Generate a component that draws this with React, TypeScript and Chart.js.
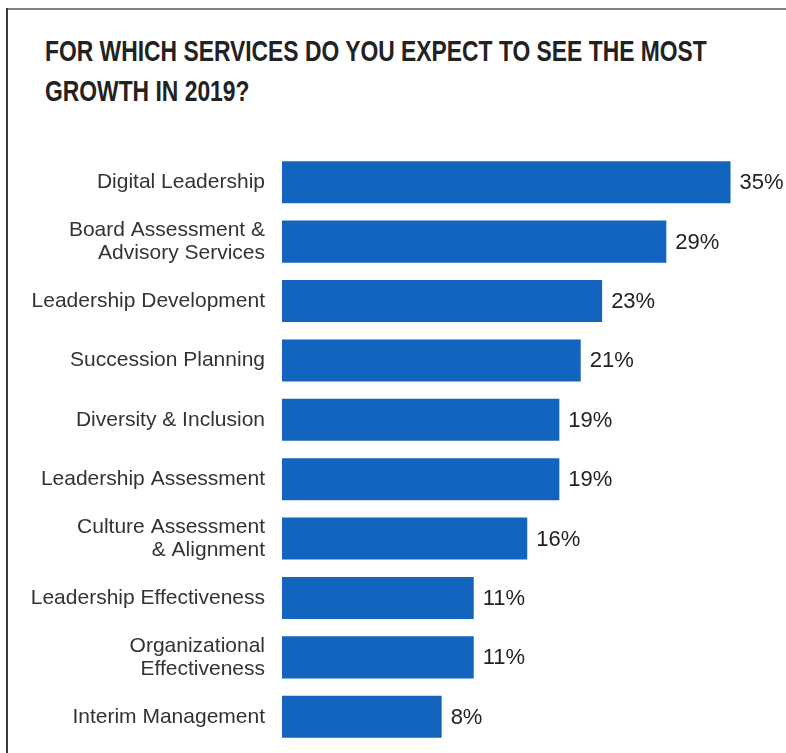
import React, { useEffect, useRef } from "react";
import { Chart, registerables } from "chart.js";

Chart.register(...registerables);

const titleLines = [
  "FOR WHICH SERVICES DO YOU EXPECT TO SEE THE MOST",
  "GROWTH IN 2019?",
];

const categories: (string | string[])[] = [
  "Digital Leadership",
  ["Board Assessment &", "Advisory Services"],
  "Leadership Development",
  "Succession Planning",
  "Diversity & Inclusion",
  "Leadership Assessment",
  ["Culture Assessment", "& Alignment"],
  "Leadership Effectiveness",
  ["Organizational", "Effectiveness"],
  "Interim Management",
];

const values = [35, 29, 23, 21, 19, 19, 16, 11, 11, 8];

const axisMin = -6.92;
const axisMax = 39.25;

const valueLabelPlugin = {
  id: "valueLabels",
  afterDatasetsDraw(chart: any) {
    const ctx = chart.ctx;
    const meta = chart.getDatasetMeta(0);
    ctx.save();
    ctx.font = '22px "Liberation Sans", Arial, sans-serif';
    ctx.fillStyle = "#222222";
    ctx.textAlign = "left";
    ctx.textBaseline = "middle";
    meta.data.forEach((bar: any, i: number) => {
      ctx.fillText(values[i] + "%", bar.x + 9, bar.y + 1);
    });
    ctx.restore();
  },
};

export default function App() {
  const canvasRef = useRef<HTMLCanvasElement | null>(null);

  useEffect(() => {
    if (!canvasRef.current) return;
    const chart = new Chart(canvasRef.current, {
      type: "bar",
      data: {
        labels: categories,
        datasets: [
          {
            data: values,
            backgroundColor: "#1264be",
            borderWidth: 0,
            base: axisMin,
            barPercentage: 0.708,
            categoryPercentage: 1,
          } as any,
        ],
      },
      options: {
        indexAxis: "y",
        animation: false,
        responsive: false,
        maintainAspectRatio: false,
        layout: { padding: { top: 0, bottom: 0, left: 0, right: 10 } },
        plugins: {
          legend: { display: false },
          tooltip: { enabled: false },
          title: { display: false },
        },
        scales: {
          x: {
            display: false,
            min: axisMin,
            max: axisMax,
          },
          y: {
            grid: { display: false, drawTicks: false },
            border: { display: false },
            ticks: {
              padding: 17,
              color: "#333333",
              font: { family: '"Liberation Sans", Arial, sans-serif', size: 21, lineHeight: 1.1 },
            },
            afterFit(scale: any) {
              scale.width = 282;
            },
          },
        },
      },
      plugins: [valueLabelPlugin],
    });
    return () => chart.destroy();
  }, []);

  return (
    <div
      style={{
        position: "absolute",
        left: 0,
        top: 0,
        width: 786,
        height: 753,
        background: "#ffffff",
        overflow: "hidden",
      }}
    >
      <div style={{ position: "absolute", left: 6, top: 8, width: 780, height: 2, background: "#7f7f7f" }} />
      <div style={{ position: "absolute", left: 6, top: 8, width: 2, height: 745, background: "#3a3a3a" }} />
      <div
        style={{
          position: "absolute",
          left: 45,
          top: 31,
          fontFamily: '"Liberation Sans", Arial, sans-serif',
          fontWeight: 700,
          fontSize: 30,
          lineHeight: "40px",
          color: "#222222",
          whiteSpace: "nowrap",
          transform: "scaleX(0.762)",
          transformOrigin: "0 0",
        }}
      >
        {titleLines.map((t, i) => (
          <div key={i}>{t}</div>
        ))}
      </div>
      <canvas
        ref={canvasRef}
        width={786}
        height={651}
        style={{ position: "absolute", left: 0, top: 124, width: 786, height: 651 }}
      />
    </div>
  );
}
